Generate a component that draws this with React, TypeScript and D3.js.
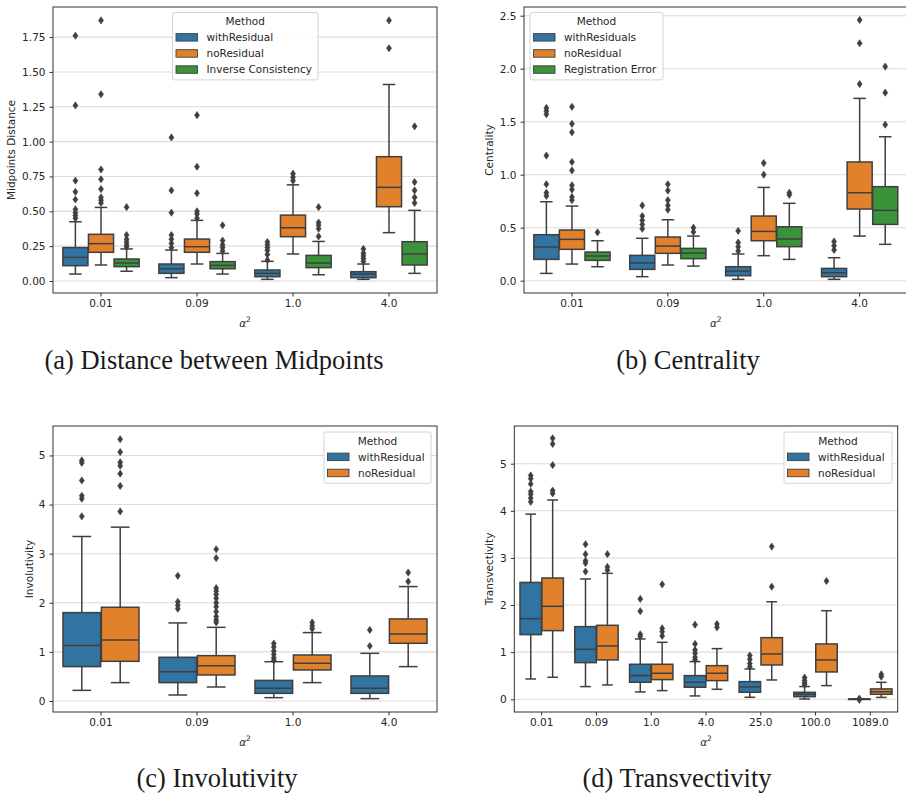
import React, { useRef, useEffect } from 'react';
import * as d3 from 'd3';

// alpha^2 values on the x axis
const alphaShort = ['0.01', '0.09', '1.0', '4.0'];
const alphaLong = ['0.01', '0.09', '1.0', '4.0', '25.0', '100.0', '1089.0'];

// box stats per alpha: [whisker low, q1, median, q3, whisker high]
// (a) Distance between Midpoints
const midWithResidual = [
  [0.05, 0.11, 0.17, 0.24, 0.425],
  [0.024, 0.055, 0.088, 0.122, 0.222],
  [0.012, 0.031, 0.055, 0.079, 0.141],
  [0.012, 0.024, 0.05, 0.067, 0.122],
];
const midWithResidualOut = [
  [1.76, 1.26, 0.72, 0.64, 0.585, 0.515, 0.49, 0.47, 0.45],
  [1.03, 0.65, 0.49, 0.33, 0.3, 0.27, 0.24],
  [0.28, 0.26, 0.24, 0.22, 0.19, 0.15],
  [0.23, 0.2, 0.18, 0.16, 0.14],
];
const midNoResidual = [
  [0.115, 0.206, 0.268, 0.335, 0.528],
  [0.122, 0.206, 0.246, 0.301, 0.435],
  [0.194, 0.318, 0.382, 0.473, 0.69],
  [0.347, 0.533, 0.672, 0.892, 1.41],
];
const midNoResidualOut = [
  [1.87, 1.34, 0.8, 0.73, 0.66, 0.6, 0.58, 0.56],
  [1.19, 0.82, 0.63, 0.5, 0.48, 0.45],
  [0.77, 0.745, 0.72],
  [1.87, 1.67],
];
const midInverse = [
  [0.07, 0.103, 0.129, 0.158, 0.23],
  [0.05, 0.088, 0.112, 0.139, 0.198],
  [0.045, 0.096, 0.129, 0.184, 0.284],
  [0.055, 0.115, 0.194, 0.282, 0.507],
];
const midInverseOut = [
  [0.53, 0.33, 0.3, 0.28, 0.26, 0.245],
  [0.4, 0.29, 0.26, 0.24, 0.215],
  [0.53, 0.42, 0.4, 0.375, 0.32],
  [1.11, 0.71, 0.65, 0.6, 0.56],
];

// (b) Centrality
const cenWithResiduals = [
  [0.069, 0.201, 0.318, 0.434, 0.745],
  [0.038, 0.107, 0.167, 0.239, 0.4],
  [0.013, 0.047, 0.091, 0.132, 0.252],
  [0.013, 0.038, 0.075, 0.116, 0.217],
];
const cenWithResidualsOut = [
  [1.63, 1.6, 1.57, 1.18, 0.91, 0.83, 0.8],
  [0.71, 0.61, 0.57, 0.53, 0.49],
  [0.47, 0.36, 0.32, 0.28],
  [0.37, 0.33, 0.29],
];
const cenNoResidual = [
  [0.157, 0.296, 0.39, 0.478, 0.704],
  [0.148, 0.258, 0.327, 0.412, 0.575],
  [0.236, 0.377, 0.465, 0.61, 0.88],
  [0.421, 0.676, 0.83, 1.12, 1.72],
];
const cenNoResidualOut = [
  [1.64, 1.48, 1.4, 1.12, 1.04, 0.9, 0.86, 0.79, 0.76],
  [0.91, 0.85, 0.76, 0.71, 0.67],
  [1.11, 1.0],
  [2.46, 2.24, 1.855],
];
const cenRegError = [
  [0.132, 0.192, 0.233, 0.27, 0.377],
  [0.138, 0.208, 0.261, 0.305, 0.421],
  [0.201, 0.321, 0.393, 0.509, 0.73],
  [0.343, 0.531, 0.664, 0.887, 1.358],
];
const cenRegErrorOut = [
  [0.456],
  [0.5, 0.46],
  [0.83, 0.81],
  [2.02, 1.774, 1.472],
];

// (c) Involutivity
const invWithResidual = [
  [0.217, 0.7, 1.128, 1.8, 3.35],
  [0.122, 0.374, 0.598, 0.89, 1.59],
  [0.068, 0.156, 0.258, 0.42, 0.8],
  [0.048, 0.156, 0.258, 0.51, 0.971],
];
const invWithResidualOut = [
  [4.9, 4.85, 4.49, 4.18, 4.12, 3.76],
  [2.55, 2.02, 1.95, 1.88],
  [1.17, 1.1, 1.02, 0.95, 0.88, 0.83],
  [1.447, 1.12],
];
const invNoResidual = [
  [0.374, 0.808, 1.243, 1.909, 3.54],
  [0.285, 0.53, 0.72, 0.924, 1.5],
  [0.374, 0.632, 0.768, 0.937, 1.393],
  [0.7, 1.175, 1.365, 1.671, 2.33],
];
const invNoResidualOut = [
  [5.33, 5.07, 4.86, 4.79, 4.63, 4.38, 3.86],
  [3.09, 2.91, 2.3, 2.24, 2.17, 2.09, 2.0, 1.92, 1.82, 1.72, 1.65, 1.6],
  [1.6, 1.53, 1.47],
  [2.615, 2.432],
];

// (d) Transvectivity
const trWithResidual = [
  [0.431, 1.372, 1.711, 2.48, 3.93],
  [0.269, 0.778, 1.061, 1.542, 2.553],
  [0.156, 0.361, 0.502, 0.743, 1.28],
  [0.071, 0.255, 0.361, 0.502, 0.8],
  [0.042, 0.149, 0.262, 0.375, 0.644],
  [0.006, 0.055, 0.106, 0.148, 0.27],
  [0.0, 0.002, 0.004, 0.006, 0.01],
];
const trWithResidualOut = [
  [4.75, 4.68, 4.57, 4.41, 4.35, 4.27, 4.19],
  [3.29, 3.08, 2.94, 2.89, 2.71],
  [2.13, 1.87, 1.38, 1.33],
  [1.584, 1.174, 1.047, 0.976, 0.89, 0.835],
  [0.93, 0.85, 0.76, 0.69],
  [0.46, 0.4, 0.35, 0.31],
  [0.015, -0.012],
];
const trNoResidual = [
  [0.467, 1.457, 1.973, 2.574, 4.23],
  [0.304, 0.835, 1.132, 1.57, 2.673],
  [0.184, 0.417, 0.552, 0.743, 1.209],
  [0.212, 0.396, 0.552, 0.714, 1.075],
  [0.41, 0.728, 0.962, 1.308, 2.07],
  [0.29, 0.58, 0.835, 1.174, 1.88],
  [0.04, 0.106, 0.16, 0.22, 0.36],
];
const trNoResidualOut = [
  [5.54, 5.42, 4.97, 4.43, 4.37],
  [3.08, 2.81, 2.74],
  [2.44, 1.506, 1.435, 1.344],
  [1.598, 1.527],
  [3.24, 2.39],
  [2.51],
  [0.53, 0.48],
];

const BLUE = '#3274a1';
const ORANGE = '#e1812c';
const GREEN = '#3a923a';
const GRAY = '#3f3f3f';
const FONT = '"DejaVu Sans", sans-serif';

interface Series {
  name: string;
  color: string;
  stats: number[][];
  outliers: number[][];
}

interface Panel {
  left: number;
  right: number;
  top: number;
  bottom: number;
  categories: string[];
  series: Series[];
  yDomain: [number, number];
  yTicks: number[];
  yFormat: (v: number) => string;
  yLabel: string;
  yLabelX: number;
  legend: { x: number; y: number; w: number };
  caption: string;
  captionX: number;
  captionY: number;
}

const panels: Panel[] = [
  {
    left: 53, right: 437, top: 7, bottom: 293,
    categories: alphaShort,
    series: [
      { name: 'withResidual', color: BLUE, stats: midWithResidual, outliers: midWithResidualOut },
      { name: 'noResidual', color: ORANGE, stats: midNoResidual, outliers: midNoResidualOut },
      { name: 'Inverse Consistency', color: GREEN, stats: midInverse, outliers: midInverseOut },
    ],
    yDomain: [-0.086, 1.966],
    yTicks: [0, 0.25, 0.5, 0.75, 1.0, 1.25, 1.5, 1.75],
    yFormat: d3.format('.2f'),
    yLabel: 'Midpoints Distance',
    yLabelX: 11,
    legend: { x: 172.5, y: 12.5, w: 145.5 },
    caption: '(a) Distance between Midpoints',
    captionX: 214,
    captionY: 369,
  },
  {
    left: 524, right: 907.6, top: 7, bottom: 293,
    categories: alphaShort,
    series: [
      { name: 'withResiduals', color: BLUE, stats: cenWithResiduals, outliers: cenWithResidualsOut },
      { name: 'noResidual', color: ORANGE, stats: cenNoResidual, outliers: cenNoResidualOut },
      { name: 'Registration Error', color: GREEN, stats: cenRegError, outliers: cenRegErrorOut },
    ],
    yDomain: [-0.116, 2.582],
    yTicks: [0, 0.5, 1.0, 1.5, 2.0, 2.5],
    yFormat: d3.format('.1f'),
    yLabel: 'Centrality',
    yLabelX: 489,
    legend: { x: 530, y: 12.5, w: 133 },
    caption: '(b) Centrality',
    captionX: 688,
    captionY: 369,
  },
  {
    left: 53, right: 437, top: 426, bottom: 712,
    categories: alphaShort,
    series: [
      { name: 'withResidual', color: BLUE, stats: invWithResidual, outliers: invWithResidualOut },
      { name: 'noResidual', color: ORANGE, stats: invNoResidual, outliers: invNoResidualOut },
    ],
    yDomain: [-0.224, 5.6],
    yTicks: [0, 1, 2, 3, 4, 5],
    yFormat: d3.format('d'),
    yLabel: 'Involutivity',
    yLabelX: 29,
    legend: { x: 324, y: 432, w: 107 },
    caption: '(c) Involutivity',
    captionX: 217,
    captionY: 787,
  },
  {
    left: 514.3, right: 897.7, top: 426, bottom: 712,
    categories: alphaLong,
    series: [
      { name: 'withResidual', color: BLUE, stats: trWithResidual, outliers: trWithResidualOut },
      { name: 'noResidual', color: ORANGE, stats: trNoResidual, outliers: trNoResidualOut },
    ],
    yDomain: [-0.27, 5.8],
    yTicks: [0, 1, 2, 3, 4, 5],
    yFormat: d3.format('d'),
    yLabel: 'Transvectivity',
    yLabelX: 489,
    legend: { x: 784, y: 432, w: 108 },
    caption: '(d) Transvectivity',
    captionX: 677,
    captionY: 787,
  },
];

function drawPanel(svg: d3.Selection<SVGSVGElement, unknown, null, undefined>, p: Panel) {
  const g = svg.append('g');
  const hueNames = p.series.map(s => s.name);

  const x0 = d3.scaleBand<string>()
    .domain(p.categories)
    .range([p.left, p.right])
    .padding(0);
  // seaborn: hue boxes fill 80% of each category
  const x1 = d3.scaleBand<string>()
    .domain(hueNames)
    .range([0, x0.bandwidth()])
    .paddingInner(0)
    .paddingOuter(hueNames.length * 0.125);
  const y = d3.scaleLinear().domain(p.yDomain).range([p.bottom, p.top]);

  // grid
  g.append('g')
    .selectAll('line')
    .data(p.yTicks)
    .join('line')
    .attr('x1', p.left)
    .attr('x2', p.right)
    .attr('y1', d => y(d))
    .attr('y2', d => y(d))
    .attr('stroke', '#dcdcdc')
    .attr('stroke-width', 1.1);

  // boxes
  const boxW = x1.bandwidth() * 0.98;
  p.series.forEach(s => {
    const sg = g.append('g');
    p.categories.forEach((cat, i) => {
      const [lo, q1, med, q3, hi] = s.stats[i];
      const cx = (x0(cat) || 0) + (x1(s.name) || 0) + x1.bandwidth() / 2;
      const line = (xa: number, ya: number, xb: number, yb: number) =>
        sg.append('line')
          .attr('x1', xa).attr('y1', ya).attr('x2', xb).attr('y2', yb)
          .attr('stroke', GRAY).attr('stroke-width', 1.5);
      line(cx, y(q3), cx, y(hi));
      line(cx, y(q1), cx, y(lo));
      line(cx - boxW / 4, y(hi), cx + boxW / 4, y(hi));
      line(cx - boxW / 4, y(lo), cx + boxW / 4, y(lo));
      sg.append('rect')
        .attr('x', cx - boxW / 2)
        .attr('y', y(q3))
        .attr('width', boxW)
        .attr('height', Math.max(0.5, y(q1) - y(q3)))
        .attr('fill', s.color)
        .attr('stroke', GRAY)
        .attr('stroke-width', 1.5);
      line(cx - boxW / 2, y(med), cx + boxW / 2, y(med));
      sg.append('g')
        .selectAll('path')
        .data(s.outliers[i])
        .join('path')
        .attr('d', d => {
          const yy = y(d);
          return `M${cx},${yy - 3.6}L${cx + 2.5},${yy}L${cx},${yy + 3.6}L${cx - 2.5},${yy}Z`;
        })
        .attr('fill', GRAY)
        .attr('stroke', GRAY)
        .attr('stroke-width', 0.6);
    });
  });

  // axes
  const yAxis = g.append('g')
    .attr('transform', `translate(${p.left},0)`)
    .call(d3.axisLeft(y).tickValues(p.yTicks).tickFormat(d => p.yFormat(+d)).tickSize(3.5).tickPadding(4));
  const xAxis = g.append('g')
    .attr('transform', `translate(0,${p.bottom})`)
    .call(d3.axisBottom(x0).tickSize(3.5).tickPadding(3.5));
  [yAxis, xAxis].forEach(ax => {
    ax.select('.domain').remove();
    ax.selectAll('.tick line').attr('stroke', '#333').attr('stroke-width', 1);
    ax.selectAll('.tick text')
      .attr('fill', '#262626')
      .attr('font-size', 10.5)
      .attr('font-family', FONT);
  });

  // spines
  g.append('rect')
    .attr('x', p.left)
    .attr('y', p.top)
    .attr('width', p.right - p.left)
    .attr('height', p.bottom - p.top)
    .attr('fill', 'none')
    .attr('stroke', '#333')
    .attr('stroke-width', 1);

  // axis labels
  g.append('text')
    .attr('transform', `translate(${p.yLabelX},${(p.top + p.bottom) / 2}) rotate(-90)`)
    .attr('dy', '0.35em')
    .attr('text-anchor', 'middle')
    .attr('font-size', 10.5)
    .attr('font-family', FONT)
    .attr('fill', '#262626')
    .text(p.yLabel);

  const xl = g.append('text')
    .attr('x', (p.left + p.right) / 2)
    .attr('y', p.bottom + 34)
    .attr('text-anchor', 'middle')
    .attr('font-size', 10.5)
    .attr('font-family', FONT)
    .attr('fill', '#262626');
  xl.append('tspan').attr('font-style', 'italic').text('α');
  xl.append('tspan').attr('font-size', 7.5).attr('dy', -5).text('2');

  // legend
  const lg = g.append('g').attr('transform', `translate(${p.legend.x},${p.legend.y})`);
  const rowH = 16.1;
  lg.append('rect')
    .attr('width', p.legend.w)
    .attr('height', rowH * (p.series.length + 1) + 3)
    .attr('rx', 2)
    .attr('fill', 'white')
    .attr('fill-opacity', 0.85)
    .attr('stroke', '#d4d4d4')
    .attr('stroke-width', 1);
  lg.append('text')
    .attr('x', p.legend.w / 2)
    .attr('y', 12.6)
    .attr('text-anchor', 'middle')
    .attr('font-size', 10.5)
    .attr('font-family', FONT)
    .attr('fill', '#262626')
    .text('Method');
  p.series.forEach((s, i) => {
    const base = 12.6 + rowH * (i + 1);
    lg.append('rect')
      .attr('x', 3.5)
      .attr('y', base - 7.6)
      .attr('width', 21.5)
      .attr('height', 7.5)
      .attr('fill', s.color)
      .attr('stroke', GRAY)
      .attr('stroke-width', 0.9);
    lg.append('text')
      .attr('x', 34)
      .attr('y', base)
      .attr('font-size', 10.5)
      .attr('font-family', FONT)
      .attr('fill', '#262626')
      .text(s.name);
  });

  // caption
  g.append('text')
    .attr('x', p.captionX)
    .attr('y', p.captionY)
    .attr('text-anchor', 'middle')
    .attr('font-size', 26.5)
    .attr('font-family', '"Liberation Serif", serif')
    .attr('fill', '#1a1a1a')
    .text(p.caption);
}

const App: React.FC = () => {
  const ref = useRef<SVGSVGElement | null>(null);

  useEffect(() => {
    if (!ref.current) return;
    const svg = d3.select(ref.current);
    svg.selectAll('*').remove();
    svg.append('rect').attr('width', 906).attr('height', 796).attr('fill', 'white');
    panels.forEach(p => drawPanel(svg, p));
  }, []);

  return (
    <div style={{ position: 'absolute', left: 0, top: 0 }}>
      <svg ref={ref} width={906} height={796} style={{ display: 'block' }} />
    </div>
  );
};

export default App;
